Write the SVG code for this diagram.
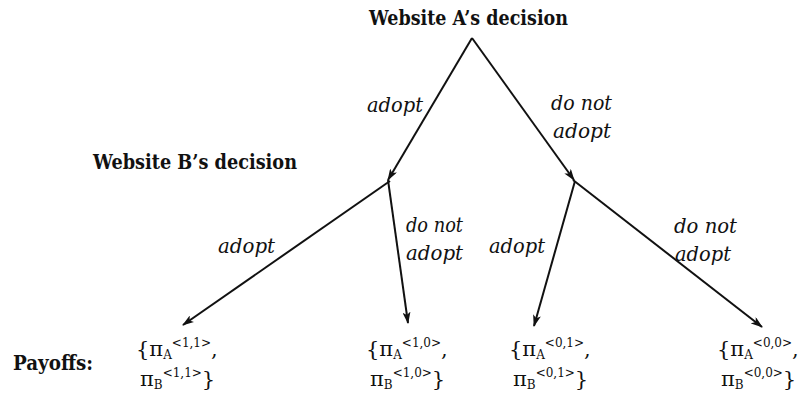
<svg xmlns="http://www.w3.org/2000/svg" width="798" height="400" viewBox="0 0 798 400">
<style>
.title{font-family:"DejaVu Serif","Liberation Serif",serif;font-weight:bold;font-size:21px;fill:#111}
.lab{font-family:"DejaVu Serif","Liberation Serif",serif;font-style:italic;font-size:20px;fill:#111}
.pay{font-family:"DejaVu Serif","Liberation Serif",serif;font-size:21px;fill:#111}
.sm{font-size:12px}
.edge{stroke:#111;stroke-width:2;fill:none;marker-end:url(#ah)}
</style>
<defs>
<marker id="ah" viewBox="0 0 12 8" refX="11" refY="4" markerWidth="12" markerHeight="8" markerUnits="userSpaceOnUse" orient="auto">
<path d="M0,0 L12,4 L0,8 L3,4 z" fill="#111"/>
</marker>
</defs>
<rect width="798" height="400" fill="#fff"/>
<g id="nodeA">
<text class="title" x="369" y="25" textLength="199" lengthAdjust="spacingAndGlyphs">Website A’s decision</text>
</g>
<g id="nodeB">
<text class="title" x="93" y="169" textLength="204" lengthAdjust="spacingAndGlyphs">Website B’s decision</text>
</g>
<g id="payoffs-label">
<text class="title" x="13" y="370" textLength="80" lengthAdjust="spacingAndGlyphs">Payoffs:</text>
</g>
<g id="leaf11">
<text class="pay" x="136" y="356">{π<tspan class="sm" dy="3">A</tspan><tspan class="sm" dy="-12">&lt;1,1&gt;</tspan><tspan dy="9">,</tspan></text>
<text class="pay" x="140" y="386">π<tspan class="sm" dy="3">B</tspan><tspan class="sm" dy="-12">&lt;1,1&gt;</tspan><tspan dy="9">}</tspan></text>
</g>
<g id="leaf10">
<text class="pay" x="366" y="356">{π<tspan class="sm" dy="3">A</tspan><tspan class="sm" dy="-12">&lt;1,0&gt;</tspan><tspan dy="9">,</tspan></text>
<text class="pay" x="370" y="386">π<tspan class="sm" dy="3">B</tspan><tspan class="sm" dy="-12">&lt;1,0&gt;</tspan><tspan dy="9">}</tspan></text>
</g>
<g id="leaf01">
<text class="pay" x="509" y="356">{π<tspan class="sm" dy="3">A</tspan><tspan class="sm" dy="-12">&lt;0,1&gt;</tspan><tspan dy="9">,</tspan></text>
<text class="pay" x="513" y="386">π<tspan class="sm" dy="3">B</tspan><tspan class="sm" dy="-12">&lt;0,1&gt;</tspan><tspan dy="9">}</tspan></text>
</g>
<g id="leaf00">
<text class="pay" x="717" y="356">{π<tspan class="sm" dy="3">A</tspan><tspan class="sm" dy="-12">&lt;0,0&gt;</tspan><tspan dy="9">,</tspan></text>
<text class="pay" x="721" y="386">π<tspan class="sm" dy="3">B</tspan><tspan class="sm" dy="-12">&lt;0,0&gt;</tspan><tspan dy="9">}</tspan></text>
</g>
<g id="connectors">
<line class="edge" x1="472" y1="38" x2="388" y2="180"/>
<line class="edge" x1="472" y1="38" x2="574" y2="180"/>
<line class="edge" x1="390" y1="181" x2="183" y2="325"/>
<line class="edge" x1="388" y1="180" x2="408" y2="323"/>
<line class="edge" x1="575" y1="181" x2="534" y2="326"/>
<line class="edge" x1="573" y1="180" x2="762" y2="327"/>
<text class="lab" x="367" y="112" textLength="56" lengthAdjust="spacingAndGlyphs">adopt</text>
<text class="lab" x="551" y="110" textLength="61" lengthAdjust="spacingAndGlyphs">do not</text>
<text class="lab" x="553" y="138" textLength="58" lengthAdjust="spacingAndGlyphs">adopt</text>
<text class="lab" x="218" y="253" textLength="57" lengthAdjust="spacingAndGlyphs">adopt</text>
<text class="lab" x="406" y="232" textLength="57" lengthAdjust="spacingAndGlyphs">do not</text>
<text class="lab" x="406" y="260" textLength="57" lengthAdjust="spacingAndGlyphs">adopt</text>
<text class="lab" x="489" y="253" textLength="56" lengthAdjust="spacingAndGlyphs">adopt</text>
<text class="lab" x="674" y="233" textLength="63" lengthAdjust="spacingAndGlyphs">do not</text>
<text class="lab" x="675" y="261" textLength="56" lengthAdjust="spacingAndGlyphs">adopt</text>
</g>
</svg>
